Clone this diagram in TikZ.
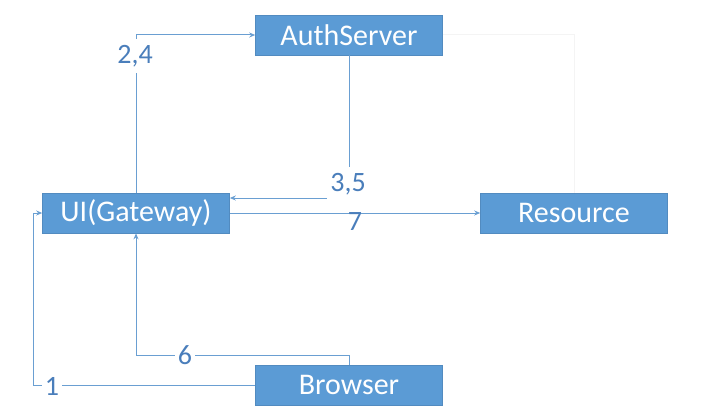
\documentclass[tikz,border=0pt]{standalone}
\usepackage{fontspec}
\setmainfont{Carlito}
\usepackage{xcolor}
\usepackage{tikz}
\usetikzlibrary{arrows.meta,positioning}
\definecolor{boxblue}{HTML}{5B9BD5}
\definecolor{lineblue}{HTML}{6A9FD2}
\definecolor{labelblue}{HTML}{4A7EBB}
\tikzset{
  box/.style={
    rectangle,
    draw=boxblue!90!black,
    line width=0.6pt,
    fill=boxblue,
    minimum width=187pt,
    minimum height=40pt,
    text=white,
    font=\fontsize{30}{32}\selectfont
  },
  arrow/.style={
    -{Stealth[length=6pt,width=5pt]},
    draw=lineblue,
    line width=1pt
  }
}

\begin{document}
\begin{tikzpicture}[
  x=1pt, y=-1pt,
  lbl/.style={fill=white, text=labelblue, inner xsep=3pt, inner ysep=6pt, font=\fontsize{28}{30}\selectfont},
  wire/.style={draw=lineblue, line width=1pt},
  faint/.style={draw=gray!9, line width=1pt}
]
\useasboundingbox (0,0) rectangle (712,420);

% Boxes
\node[box] (auth) at (349, 35) {AuthServer};
\node[box] (ui) at (136, 213) {UI(Gateway)};
\node[box] (res) at (574, 213) {Resource};
\node[box] (brw) at (349, 385) {Browser};

% Corners
\coordinate (c35) at (349, 198);
\coordinate (c6) at (349, 355);
\coordinate (c1) at (33, 385);

% Connections
\draw[faint] (auth.east) -| (res.north);
\draw[arrow] (ui.north) |- (auth.west);
\draw[arrow] (auth.south) -- (c35) -- (c35 -| ui.east);
\draw[arrow] (ui.east) -- (res.west);
\draw[arrow] (brw.north) -- (c6) -| (ui.south);
\draw[wire] (brw.west) -- (c1);
\draw[arrow] (c1) |- (ui.west);

% Labels
\node[lbl] (l24) at (135, 56) {2,4};
\node[lbl] (l35) at (348, 184) {3,5};
\node[lbl, fill=none] (l7) at (355, 222) {7};
\node[lbl] (l6) at (185, 355) {6};
\node[lbl] (l1) at (52, 386) {1};

\end{tikzpicture}
\end{document}
